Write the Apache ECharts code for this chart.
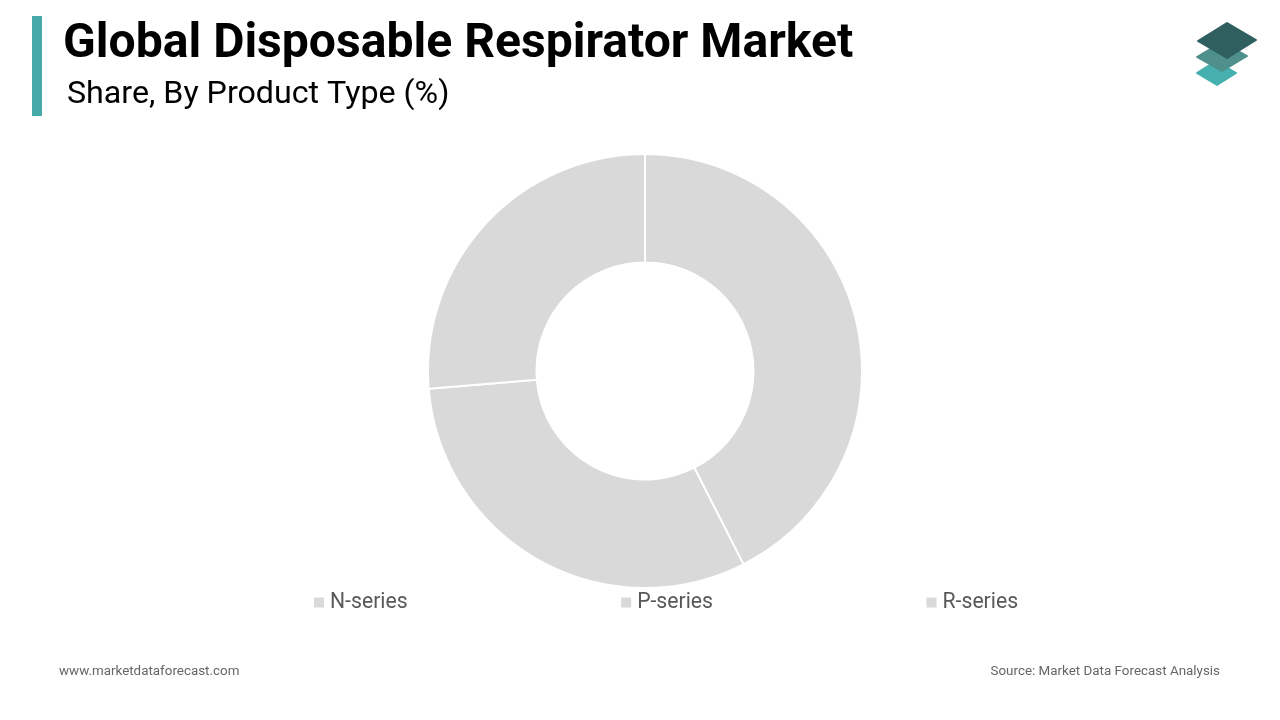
<!DOCTYPE html>
<html>
<head>
<meta charset="utf-8">
<style>
  html, body { margin: 0; padding: 0; background: #fff; }
  #chart { width: 1280px; height: 720px; }
</style>
<script src="https://cdn.jsdelivr.net/npm/echarts@6/dist/echarts.min.js"></script>
</head>
<body>
<div id="chart"></div>
<script>
const categories = ['N-series', 'P-series', 'R-series'];
const shares = [42.5, 31.2, 26.3];
const titleText = 'Global Disposable Respirator Market';
const subtitleText = 'Share, By Product Type (%)';
const siteText = 'www.marketdataforecast.com';
const sourceText = 'Source: Market Data Forecast Analysis';

const myChart = echarts.init(document.getElementById('chart'));

const option = {
    animation: false,
    backgroundColor: '#fff',
    title: [
        { text: titleText, left: 58, top: 16, textStyle: { fontFamily: 'Roboto', fontSize: 48.1, fontWeight: 'bold', color: '#000' } },
        { text: subtitleText, left: 62, top: 74, textStyle: { fontFamily: 'Roboto', fontSize: 32.2, fontWeight: 'normal', color: '#000' } },
        { text: siteText, left: 54, top: 660, textStyle: { fontFamily: 'Roboto', fontSize: 13.4, fontWeight: 'normal', color: '#666' } },
        { text: sourceText, right: 55, top: 660, textStyle: { fontFamily: 'Roboto', fontSize: 13.4, fontWeight: 'normal', color: '#666' } }
    ],
    legend: {
        data: categories,
        left: 309,
        top: 587,
        orient: 'horizontal',
        icon: 'rect',
        itemWidth: 10,
        itemHeight: 10,
        itemGap: 213.5,
        itemStyle: { borderWidth: 0 },
        textStyle: { fontFamily: 'Roboto', fontSize: 21.2, color: '#595959', padding: [0, 0, 0, 1] }
    },
    series: [
        {
            type: 'pie',
            center: [645, 371],
            radius: [108.5, 217],
            startAngle: 90,
            clockwise: true,
            label: { show: false },
            labelLine: { show: false },
            itemStyle: { color: '#d9d9d9', borderColor: '#fff', borderWidth: 2 },
            data: categories.map((name, i) => ({ name: name, value: shares[i] }))
        }
    ],
    graphic: [
        { type: 'rect', shape: { x: 32, y: 16, width: 10, height: 100 }, style: { fill: '#46aaa8' } },
        // logo
        { type: 'polygon', shape: { points: [[1216, 61], [1236, 73], [1217, 85], [1197, 73]] }, style: { fill: '#45b0ae', stroke: '#45b0ae', lineWidth: 2, lineJoin: 'round' } },
        { type: 'polygon', shape: { points: [[1222, 42], [1247, 56], [1222, 71], [1197, 57]] }, style: { fill: '#4f8f8c', stroke: '#4f8f8c', lineWidth: 2, lineJoin: 'round' } },
        { type: 'polygon', shape: { points: [[1227, 23], [1256, 40], [1227, 58], [1198, 41]] }, style: { fill: '#2f5f5f', stroke: '#2f5f5f', lineWidth: 2, lineJoin: 'round' } }
    ]
};
option && myChart.setOption(option);
</script>
</body>
</html>
